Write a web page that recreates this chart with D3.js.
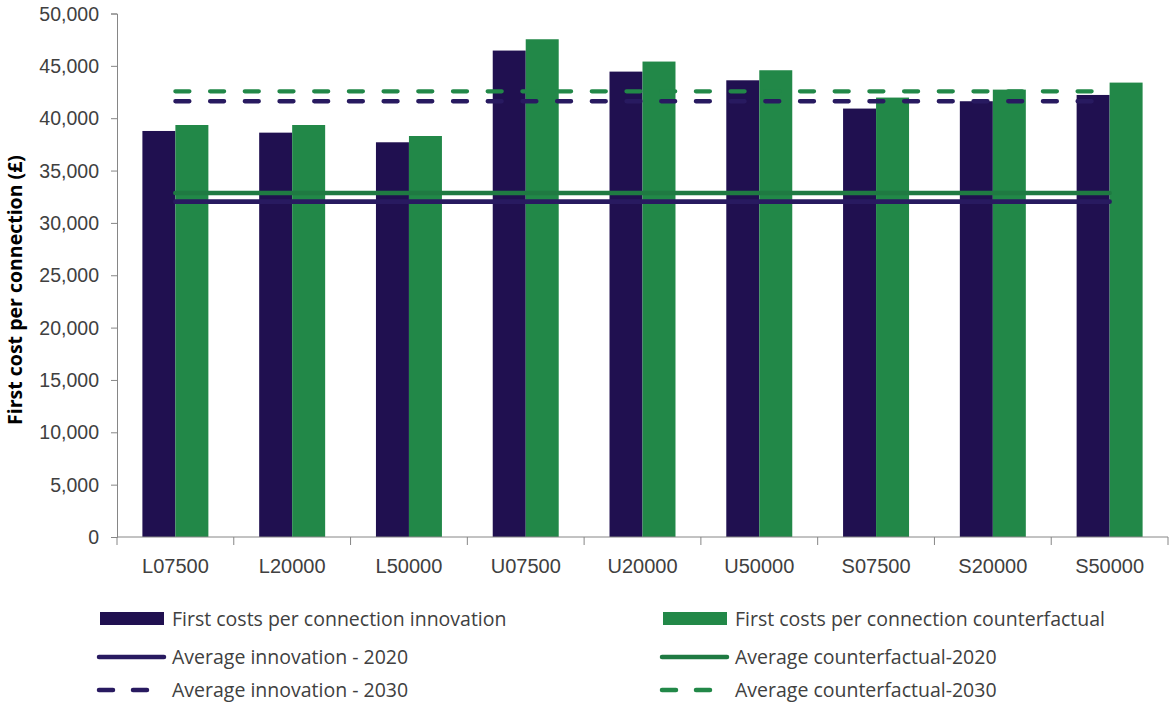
<!DOCTYPE html>
<html>
<head>
<meta charset="utf-8">
<script src="https://cdn.jsdelivr.net/npm/d3@7/dist/d3.min.js"></script>
<style>
  html, body { margin: 0; padding: 0; background: #fff; }
  svg { display: block; font-family: "Open Sans", "Noto Sans", sans-serif; }
</style>
</head>
<body>
<svg id="chart" width="1170" height="703"></svg>
<script>
// Network configurations
const categories = ["L07500", "L20000", "L50000", "U07500", "U20000", "U50000", "S07500", "S20000", "S50000"];

// First costs per connection (£)
const innovation = [38780, 38620, 37700, 46460, 44450, 43620, 40920, 41620, 42220];
const counterfactual = [39350, 39350, 38300, 47540, 45410, 44580, 41970, 42730, 43400];

// Reference averages
const avgInnovation2020 = 32030;
const avgCounterfactual2020 = 32850;
const avgInnovation2030 = 41620;
const avgCounterfactual2030 = 42570;

const yTicks = [0, 5000, 10000, 15000, 20000, 25000, 30000, 35000, 40000, 45000, 50000];

const seriesNames = ["First costs per connection innovation", "First costs per connection counterfactual"];
const lineNames = ["Average innovation - 2020", "Average counterfactual-2020", "Average innovation - 2030", "Average counterfactual-2030"];

const NAVY = "#201050";
const GREEN = "#228848";
const NAVY_LINE = "#281a60";
const GREEN_LINE = "#1f7a42";
const AXIS = "#868686";
const TEXT = "#404040";

const svg = d3.select("#chart");
const plotLeft = 117, plotRight = 1168, plotTop = 13.5, plotBottom = 537;

const x = d3.scaleBand().domain(categories).range([plotLeft, plotRight]).paddingInner(0.435).paddingOuter(0.2175);
const xSub = d3.scaleBand().domain([0, 1]).range([0, x.bandwidth()]);
const y = d3.scaleLinear().domain([0, 50000]).range([plotBottom, plotTop]);

// Bars
const data = categories.map((c, i) => ({ c, vals: [innovation[i], counterfactual[i]] }));
const groups = svg.append("g").selectAll("g").data(data).join("g")
  .attr("transform", d => `translate(${x(d.c)},0)`);
groups.selectAll("rect").data(d => d.vals.map((v, k) => ({ v, k }))).join("rect")
  .attr("x", d => xSub(d.k))
  .attr("width", xSub.bandwidth())
  .attr("y", d => y(d.v))
  .attr("height", d => y(0) - y(d.v))
  .attr("fill", d => d.k === 0 ? NAVY : GREEN);

// Average lines, from first to last category centre
const x0 = x(categories[0]) + x.bandwidth() / 2;
const x1 = x(categories[categories.length - 1]) + x.bandwidth() / 2;
const lines = [
  { v: avgCounterfactual2020, color: GREEN_LINE, dash: null },
  { v: avgInnovation2020, color: NAVY_LINE, dash: null },
  { v: avgCounterfactual2030, color: GREEN, dash: "14,20.7" },
  { v: avgInnovation2030, color: NAVY_LINE, dash: "14,20.7" }
];
svg.append("g").selectAll("line").data(lines).join("line")
  .attr("x1", x0).attr("x2", x1)
  .attr("y1", d => y(d.v)).attr("y2", d => y(d.v))
  .attr("stroke", d => d.color)
  .attr("stroke-width", d => d.dash ? 4.3 : 4.6)
  .attr("stroke-linecap", "round")
  .attr("stroke-dasharray", d => d.dash);

// Y axis
const yAxis = svg.append("g").attr("transform", `translate(${plotLeft},0)`)
  .call(d3.axisLeft(y).tickValues(yTicks).tickSize(6).tickPadding(12).tickFormat(d3.format(",")));
yAxis.select(".domain").attr("stroke", AXIS);
yAxis.selectAll(".tick line").attr("stroke", AXIS);
yAxis.selectAll(".tick text").attr("fill", TEXT).style("font-size", "19.5px").attr("dy", "0.34em");

// X axis: labels centred on categories, ticks at category boundaries
const xAxis = svg.append("g").attr("transform", `translate(0,${plotBottom})`)
  .call(d3.axisBottom(x).tickSize(0).tickPadding(22));
xAxis.select(".domain").attr("stroke", AXIS).attr("d", `M${plotLeft},0H${plotRight}`);
xAxis.selectAll(".tick text").attr("fill", TEXT).style("font-size", "20px");
const step = x.step();
xAxis.append("g").selectAll("line").data(d3.range(categories.length + 1)).join("line")
  .attr("x1", i => plotLeft + i * step).attr("x2", i => plotLeft + i * step)
  .attr("y1", 0).attr("y2", 8)
  .attr("stroke", AXIS);

// Y axis title
svg.append("text")
  .attr("transform", `translate(22,290) rotate(-90)`)
  .attr("text-anchor", "middle")
  .style("font-size", "19.5px").style("font-weight", "bold")
  .attr("fill", "#000")
  .text("First cost per connection (£)");

// Legend
const legend = svg.append("g");
const cols = [100, 663];
const rows = [619, 657, 690];
const legendItems = [
  { type: "rect", color: NAVY, label: seriesNames[0], col: 0, row: 0 },
  { type: "rect", color: GREEN, label: seriesNames[1], col: 1, row: 0 },
  { type: "line", color: NAVY_LINE, label: lineNames[0], col: 0, row: 1 },
  { type: "line", color: GREEN_LINE, label: lineNames[1], col: 1, row: 1 },
  { type: "dash", color: NAVY_LINE, label: lineNames[2], col: 0, row: 2 },
  { type: "dash", color: GREEN, label: lineNames[3], col: 1, row: 2 }
];
legendItems.forEach(it => {
  const gx = cols[it.col], gy = rows[it.row];
  const g = legend.append("g").attr("transform", `translate(${gx},${gy})`);
  if (it.type === "rect") {
    g.append("rect").attr("x", 0).attr("y", -7).attr("width", 64).attr("height", 13).attr("fill", it.color);
  } else {
    g.append("line").attr("x1", -1).attr("x2", it.type === "dash" ? 50 : 64)
      .attr("y1", 0).attr("y2", 0)
      .attr("stroke", it.color).attr("stroke-width", 4.5).attr("stroke-linecap", "round")
      .attr("stroke-dasharray", it.type === "dash" ? "14,20" : null);
  }
  g.append("text").attr("x", 72).attr("y", 0).attr("dy", "0.35em")
    .attr("fill", TEXT).style("font-size", "19.5px").text(it.label);
});
</script>
</body>
</html>
